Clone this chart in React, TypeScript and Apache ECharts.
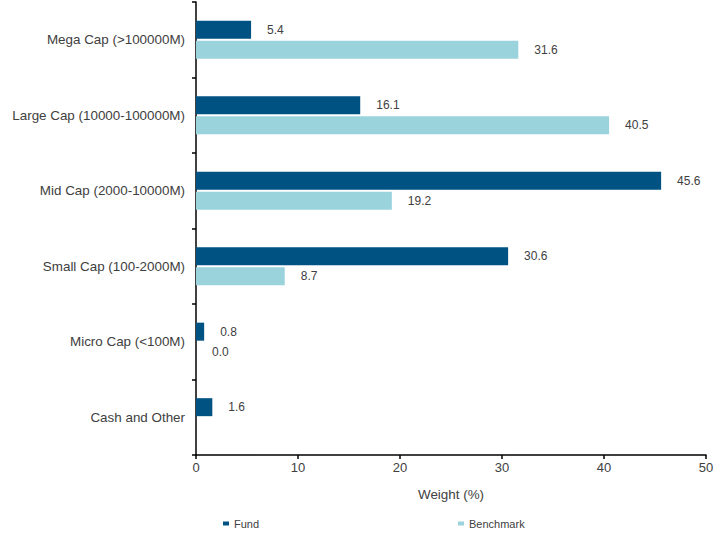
import React, { useEffect, useRef } from "react";
import * as echarts from "echarts";

const categories = [
  "Mega Cap (>100000M)",
  "Large Cap (10000-100000M)",
  "Mid Cap (2000-10000M)",
  "Small Cap (100-2000M)",
  "Micro Cap (<100M)",
  "Cash and Other",
];
const fundValues: (number | null)[] = [5.4, 16.1, 45.6, 30.6, 0.8, 1.6];
const benchmarkValues: (number | null)[] = [31.6, 40.5, 19.2, 8.7, 0.0, null];
const seriesNames = ["Fund", "Benchmark"];

const FONT = "'Liberation Sans', Arial, sans-serif";
const TEXT = "#404040";

export default function App() {
  const ref = useRef<HTMLDivElement>(null);
  useEffect(() => {
    document.body.style.margin = "0";
    if (!ref.current) return;
    const chart = echarts.init(ref.current, undefined, { renderer: "svg" });
    const label = {
      show: true,
      position: "right" as const,
      distance: 16,
      color: TEXT,
      fontFamily: FONT,
      fontSize: 12,
      formatter: (p: any) => (p.value == null ? "" : Number(p.value).toFixed(1)),
    };
    const legendBase = {
      top: 513,
      icon: "rect",
      itemWidth: 6,
      itemHeight: 4,
      itemGap: 4,
      textStyle: { color: TEXT, fontSize: 11, fontFamily: FONT },
    };
    chart.setOption({
      animation: false,
      textStyle: { fontFamily: FONT },
      grid: { left: 196, right: 22, top: 2, bottom: 78, containLabel: false },
      legend: [
        { ...legendBase, data: [seriesNames[0]], left: 218 },
        { ...legendBase, data: [seriesNames[1]], left: 453 },
      ],
      xAxis: {
        type: "value",
        min: 0,
        max: 50,
        interval: 10,
        name: "Weight (%)",
        nameLocation: "middle",
        nameGap: 33,
        nameTextStyle: { color: TEXT, fontSize: 13.4, fontFamily: FONT },
        axisLine: { show: true, lineStyle: { color: "#000", width: 1.5 } },
        axisTick: { show: true, length: 4, lineStyle: { color: "#000", width: 1.5 } },
        axisLabel: { color: TEXT, fontSize: 13, margin: 6, fontFamily: FONT },
        splitLine: { show: false },
      },
      yAxis: {
        type: "category",
        data: categories,
        inverse: true,
        axisLine: { show: true, lineStyle: { color: "#000", width: 1.5 } },
        axisTick: { show: true, length: 4, lineStyle: { color: "#000", width: 1.5 } },
        axisLabel: { color: TEXT, fontSize: 13.4, margin: 11, fontFamily: FONT },
      },
      series: [
        {
          name: seriesNames[0],
          type: "bar",
          data: fundValues,
          barWidth: 18,
          barGap: "12%",
          itemStyle: { color: "#005283" },
          label,
        },
        {
          name: seriesNames[1],
          type: "bar",
          data: benchmarkValues,
          barWidth: 18,
          barGap: "12%",
          itemStyle: { color: "#9BD3DD" },
          label,
        },
      ],
    });
    return () => chart.dispose();
  }, []);
  return <div ref={ref} style={{ width: 728, height: 533 }} />;
}
